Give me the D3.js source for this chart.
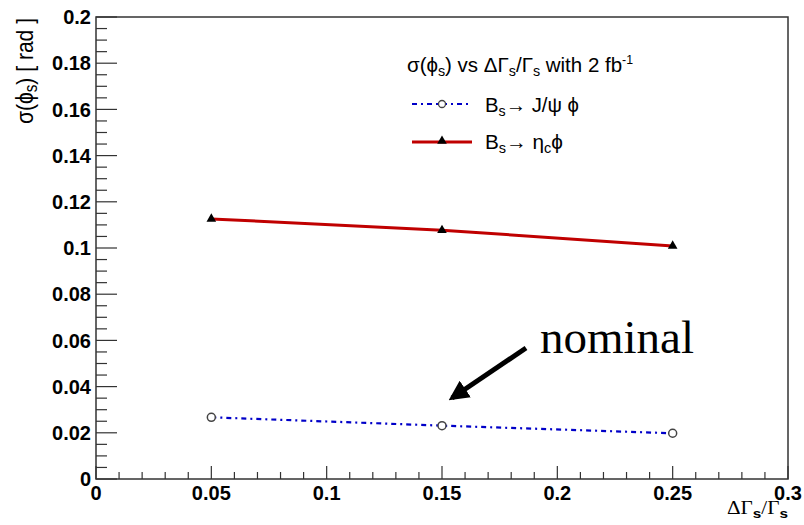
<!DOCTYPE html>
<html>
<head>
<meta charset="utf-8">
<script src="https://cdn.jsdelivr.net/npm/d3@7"></script>
<style>
  body { margin: 0; background: #fff; }
  svg { display: block; }
  .tick-label { font-family: "Liberation Sans", Arial, sans-serif; font-weight: bold; font-size: 20px; fill: #000; }
</style>
</head>
<body>
<svg id="chart"></svg>
<script>
// Data
const dGamma = [0.05, 0.15, 0.25];
const sigmaJpsiPhi = [0.0267, 0.0231, 0.0198];
const sigmaEtacPhi = [0.1126, 0.1077, 0.1009];
const xTicks = [0, 0.05, 0.1, 0.15, 0.2, 0.25, 0.3];
const yTicks = [0, 0.02, 0.04, 0.06, 0.08, 0.1, 0.12, 0.14, 0.16, 0.18, 0.2];

const width = 804, height = 525;
const margin = { left: 96, right: 16, top: 17, bottom: 46 };

const svg = d3.select("#chart")
    .attr("width", width)
    .attr("height", height);

const x = d3.scaleLinear().domain([0, 0.3]).range([margin.left, width - margin.right]);
const y = d3.scaleLinear().domain([0, 0.2]).range([height - margin.bottom, margin.top]);

// Frame
svg.append("rect")
    .attr("x", x(0)).attr("y", y(0.2))
    .attr("width", x(0.3) - x(0)).attr("height", y(0) - y(0.2))
    .attr("fill", "none").attr("stroke", "#333").attr("stroke-width", 1.5);

// Y axis ticks: major 0.02, minor 0.005
const yMinor = d3.range(0, 0.2001, 0.005);
svg.append("g").selectAll("line")
    .data(yMinor)
    .join("line")
    .attr("x1", x(0))
    .attr("x2", d => x(0) + (Math.abs(d / 0.02 - Math.round(d / 0.02)) < 1e-6 ? 21 : 11))
    .attr("y1", d => y(d)).attr("y2", d => y(d))
    .attr("stroke", "#333").attr("stroke-width", 1.2);

svg.append("g").selectAll("text")
    .data(yTicks)
    .join("text")
    .attr("class", "tick-label")
    .attr("x", x(0) - 5)
    .attr("y", d => y(d))
    .attr("dy", "0.36em")
    .attr("text-anchor", "end")
    .text(d => +d.toFixed(2));

// X axis ticks: major 0.05, minor 0.01
const xMinor = d3.range(0, 0.3001, 0.01);
svg.append("g").selectAll("line")
    .data(xMinor)
    .join("line")
    .attr("x1", d => x(d)).attr("x2", d => x(d))
    .attr("y1", y(0))
    .attr("y2", d => y(0) - (Math.abs(d / 0.05 - Math.round(d / 0.05)) < 1e-6 ? 13 : 7))
    .attr("stroke", "#333").attr("stroke-width", 1.2);

svg.append("g").selectAll("text")
    .data(xTicks)
    .join("text")
    .attr("class", "tick-label")
    .attr("x", d => x(d))
    .attr("y", y(0) + 21)
    .attr("text-anchor", "middle")
    .text(d => +d.toFixed(2));

// Axis titles
svg.append("text")
    .attr("x", 727).attr("y", 514)
    .attr("textLength", 61)
    .attr("lengthAdjust", "spacingAndGlyphs")
    .attr("font-family", "Liberation Serif, Times New Roman, serif")
    .attr("font-size", 18)
    .html('ΔΓ<tspan font-size="13" font-weight="bold" font-family="Liberation Sans, Arial" dy="4">s</tspan><tspan dy="-4">/Γ</tspan><tspan font-size="13" font-weight="bold" font-family="Liberation Sans, Arial" dy="4">s</tspan>');

svg.append("text")
    .attr("transform", "translate(33,124) rotate(-90) scale(1,1.35)")
    .attr("font-family", "Liberation Sans, Arial, sans-serif")
    .attr("font-size", 18)
    .attr("textLength", 106)
    .attr("lengthAdjust", "spacingAndGlyphs")
    .html('σ(ϕ<tspan font-size="13" dy="3">s</tspan><tspan dy="-3">) [ rad ]</tspan>');

// Lines
const line = d3.line().x(d => x(d[0])).y(d => y(d[1]));
const jpsi = dGamma.map((d, i) => [d, sigmaJpsiPhi[i]]);
const etac = dGamma.map((d, i) => [d, sigmaEtacPhi[i]]);

svg.append("path")
    .datum(etac)
    .attr("d", line)
    .attr("fill", "none")
    .attr("stroke", "#c00000")
    .attr("stroke-width", 3);

svg.append("path")
    .datum(jpsi)
    .attr("d", line)
    .attr("fill", "none")
    .attr("stroke", "#0000c8")
    .attr("stroke-width", 2.2)
    .attr("stroke-dasharray", "5,4,2,4");

const tri = d3.symbol().type(d3.symbolTriangle).size(40);
svg.append("g").selectAll("path")
    .data(etac)
    .join("path")
    .attr("transform", d => `translate(${x(d[0])},${y(d[1])})`)
    .attr("d", tri)
    .attr("fill", "#000");

svg.append("g").selectAll("circle")
    .data(jpsi)
    .join("circle")
    .attr("cx", d => x(d[0])).attr("cy", d => y(d[1]))
    .attr("r", 4)
    .attr("fill", "#fff")
    .attr("stroke", "#444")
    .attr("stroke-width", 1.5);

// Legend
const lg = svg.append("g").attr("font-family", "Liberation Sans, Arial, sans-serif").attr("font-size", 20);
lg.append("text")
    .attr("x", 407).attr("y", 72)
    .attr("textLength", 226)
    .attr("lengthAdjust", "spacingAndGlyphs")
    .html('σ(ϕ<tspan font-size="14" dy="4">s</tspan><tspan dy="-4">) vs ΔΓ</tspan><tspan font-size="14" dy="4">s</tspan><tspan dy="-4">/Γ</tspan><tspan font-size="14" dy="4">s</tspan><tspan dy="-4"> with 2 fb</tspan><tspan font-size="12" dy="-8">-1</tspan>');

lg.append("line")
    .attr("x1", 412).attr("x2", 472).attr("y1", 104).attr("y2", 104)
    .attr("stroke", "#0000c8").attr("stroke-width", 2.2).attr("stroke-dasharray", "5,4,2,4");
lg.append("circle")
    .attr("cx", 442).attr("cy", 104).attr("r", 3.5)
    .attr("fill", "#fff").attr("stroke", "#444").attr("stroke-width", 1.3);
lg.append("text")
    .attr("x", 485).attr("y", 112)
    .attr("textLength", 94)
    .attr("lengthAdjust", "spacingAndGlyphs")
    .html('B<tspan font-size="14" dy="4">s</tspan><tspan dy="-4">→ J/ψ ϕ</tspan>');

lg.append("line")
    .attr("x1", 412).attr("x2", 472).attr("y1", 142).attr("y2", 142)
    .attr("stroke", "#c00000").attr("stroke-width", 3);
lg.append("path")
    .attr("transform", "translate(442,141)")
    .attr("d", tri)
    .attr("fill", "#000");
lg.append("text")
    .attr("x", 485).attr("y", 149)
    .attr("textLength", 78)
    .attr("lengthAdjust", "spacingAndGlyphs")
    .html('B<tspan font-size="14" dy="4">s</tspan><tspan dy="-4">→ η</tspan><tspan font-size="14" dy="4">c</tspan><tspan dy="-4">ϕ</tspan>');

// Annotation
svg.append("text")
    .attr("x", 540).attr("y", 353)
    .attr("font-family", "Liberation Serif, Times New Roman, serif")
    .attr("font-size", 47)
    .text("nominal");

svg.append("defs").append("marker")
    .attr("id", "head")
    .attr("viewBox", "0 0 10 10")
    .attr("refX", 8).attr("refY", 5)
    .attr("markerWidth", 4).attr("markerHeight", 4)
    .attr("orient", "auto")
    .append("path")
    .attr("d", "M0,0 L10,5 L0,10 z")
    .attr("fill", "#000");

svg.append("line")
    .attr("x1", 526).attr("y1", 348)
    .attr("x2", 452).attr("y2", 398)
    .attr("stroke", "#000").attr("stroke-width", 5)
    .attr("marker-end", "url(#head)");
</script>
</body>
</html>
